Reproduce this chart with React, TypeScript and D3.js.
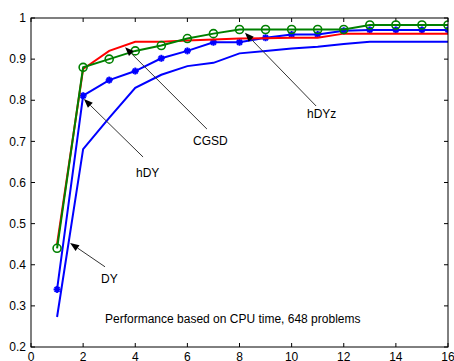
import React from 'react'
import * as d3 from 'd3'

// solvers performance profile, tau = 1..16
const taus = d3.range(1, 17)
const dyValues = [0.273, 0.681, 0.757, 0.83, 0.862, 0.883, 0.891, 0.914, 0.92, 0.926, 0.93, 0.937, 0.942, 0.942, 0.942, 0.942]
const hdyValues = [0.34, 0.811, 0.849, 0.871, 0.902, 0.92, 0.941, 0.941, 0.952, 0.96, 0.96, 0.969, 0.971, 0.971, 0.971, 0.971]
const cgsdValues = [0.45, 0.876, 0.92, 0.942, 0.942, 0.945, 0.948, 0.95, 0.951, 0.952, 0.952, 0.962, 0.962, 0.962, 0.962, 0.962]
const hdyzValues = [0.44, 0.88, 0.9, 0.92, 0.933, 0.95, 0.962, 0.972, 0.972, 0.972, 0.972, 0.972, 0.983, 0.983, 0.983, 0.983]

const xTicks = [0, 2, 4, 6, 8, 10, 12, 14, 16]
const yTicks = [0.2, 0.3, 0.4, 0.5, 0.6, 0.7, 0.8, 0.9, 1]

// annotations in data units: label, text pos, arrow tail, arrow tip
const annotations = [
    { label: 'CGSD', text: [6.22, 0.691], tail: [6.75, 0.73], tip: [3.61, 0.929] },
    { label: 'hDYz', text: [10.59, 0.757], tail: [10.94, 0.786], tip: [8.21, 0.964] },
    { label: 'hDY', text: [4.03, 0.613], tail: [4.3, 0.662], tip: [2.03, 0.803] },
    { label: 'DY', text: [2.69, 0.356], tail: [2.84, 0.395], tip: [1.5, 0.453] },
]
const caption = 'Performance based on CPU time, 648 problems'

const width = 454
const height = 361
const margin = { top: 18, right: 6, bottom: 14, left: 31 }
const font = '"Liberation Sans", Arial, sans-serif'

export default function App() {
    const x = d3.scaleLinear().domain([0, 16]).range([margin.left, width - margin.right])
    const y = d3.scaleLinear().domain([0.2, 1]).range([height - margin.bottom, margin.top])

    const line = d3.line<number>()
        .x((_, i) => x(taus[i]))
        .y(d => y(d))

    const series = [
        { values: dyValues, color: '#0000ff', marker: 'none' },
        { values: hdyValues, color: '#0000ff', marker: 'star' },
        { values: cgsdValues, color: '#ff0000', marker: 'none' },
        { values: hdyzValues, color: '#008000', marker: 'circle' },
    ]

    const x0 = x(0), x1 = x(16), y0 = y(0.2), y1 = y(1)
    const tickLen = 4

    return (
        <svg width={width} height={height} style={{ position: 'absolute', left: 0, top: 0, background: '#fff' }}>
            <defs>
                <clipPath id="plot">
                    <rect x={x0} y={y1} width={x1 - x0} height={y0 - y1} />
                </clipPath>
            </defs>

            {/* ticks, inward on all four sides */}
            {xTicks.map(t => (
                <g key={'xt' + t}>
                    <line x1={x(t)} x2={x(t)} y1={y0} y2={y0 - tickLen} stroke="#000" />
                    <line x1={x(t)} x2={x(t)} y1={y1} y2={y1 + tickLen} stroke="#000" />
                    <text x={x(t)} y={y0 + 14} textAnchor="middle" fontFamily={font} fontSize={12} fill="#000">{t}</text>
                </g>
            ))}
            {yTicks.map(t => (
                <g key={'yt' + t}>
                    <line x1={x0} x2={x0 + tickLen} y1={y(t)} y2={y(t)} stroke="#000" />
                    <line x1={x1} x2={x1 - tickLen} y1={y(t)} y2={y(t)} stroke="#000" />
                    <text x={x0 - 5} y={y(t)} dy="0.35em" textAnchor="end" fontFamily={font} fontSize={12} fill="#000">{t === 1 ? '1' : t.toFixed(1)}</text>
                </g>
            ))}

            <g clipPath="url(#plot)">
                {series.map((s, si) => (
                    <g key={si}>
                        <path d={line(s.values) || ''} fill="none" stroke={s.color} strokeWidth={2} />
                        {s.marker === 'circle' && s.values.map((v, i) => (
                            <circle key={i} cx={x(taus[i])} cy={y(v)} r={4} fill="none" stroke={s.color} strokeWidth={1.6} />
                        ))}
                        {s.marker === 'star' && s.values.map((v, i) => {
                            const cx = x(taus[i]), cy = y(v), r = 3.5
                            return (
                                <g key={i} stroke={s.color} strokeWidth={2}>
                                    <line x1={cx - r} x2={cx + r} y1={cy} y2={cy} />
                                    <line x1={cx} x2={cx} y1={cy - r} y2={cy + r} />
                                    <line x1={cx - r * 0.7} x2={cx + r * 0.7} y1={cy - r * 0.7} y2={cy + r * 0.7} />
                                    <line x1={cx - r * 0.7} x2={cx + r * 0.7} y1={cy + r * 0.7} y2={cy - r * 0.7} />
                                </g>
                            )
                        })}
                    </g>
                ))}
            </g>

            {/* annotations */}
            {annotations.map(a => {
                const tx = x(a.tail[0]), ty = y(a.tail[1])
                const hx = x(a.tip[0]), hy = y(a.tip[1])
                const ang = Math.atan2(hy - ty, hx - tx)
                const len = 9, half = 3.5
                const bx = hx - len * Math.cos(ang), by = hy - len * Math.sin(ang)
                const p1 = [bx + half * Math.sin(ang), by - half * Math.cos(ang)]
                const p2 = [bx - half * Math.sin(ang), by + half * Math.cos(ang)]
                return (
                    <g key={a.label}>
                        <line x1={tx} y1={ty} x2={bx} y2={by} stroke="#333" strokeWidth={1} />
                        <polygon points={`${hx},${hy} ${p1[0]},${p1[1]} ${p2[0]},${p2[1]}`} fill="#000" />
                        <text x={x(a.text[0])} y={y(a.text[1])} fontFamily={font} fontSize={12} fill="#000">{a.label}</text>
                    </g>
                )
            })}

            <text x={x(2.84)} y={y(0.258)} fontFamily={font} fontSize={12} fill="#000">{caption}</text>

            <rect x={x0} y={y1} width={x1 - x0} height={y0 - y1} fill="none" stroke="#000" strokeWidth={1} />
        </svg>
    )
}
